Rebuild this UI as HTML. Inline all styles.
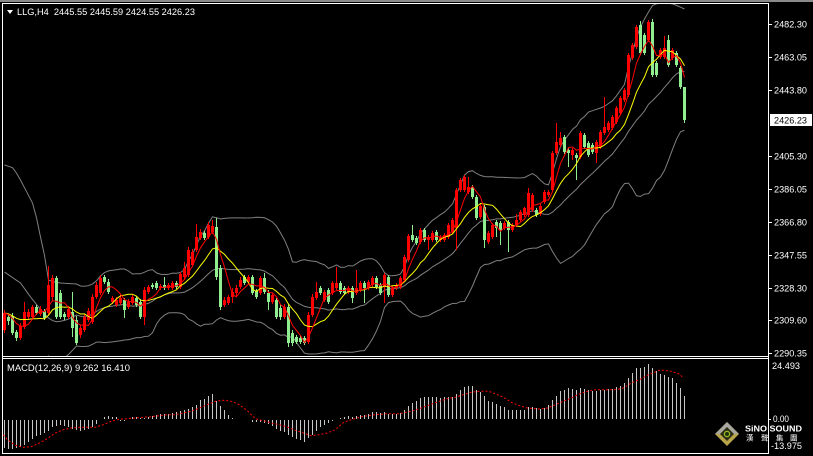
<!DOCTYPE html>
<html><head><meta charset="utf-8"><title>LLG,H4</title>
<style>
html,body{margin:0;padding:0;background:#000;width:813px;height:456px;overflow:hidden}
svg{display:block}
text{font-family:"Liberation Sans","Noto Sans CJK TC",sans-serif;}
</style></head><body>
<svg width="813" height="456" viewBox="0 0 813 456">
<defs>
<clipPath id="cm"><rect x="3" y="4" width="765" height="352"/></clipPath>
<clipPath id="cd"><rect x="3" y="359" width="765" height="94"/></clipPath>
</defs>
<rect width="813" height="456" fill="#000"/>
<rect x="0" y="0" width="813" height="2" fill="#8a8a8a"/>
<g id="gm" clip-path="url(#cm)"></g>
<g id="gd" clip-path="url(#cd)"></g>
<g fill="#fff" shape-rendering="crispEdges">
<rect x="2" y="3" width="767" height="1"/>
<rect x="2" y="3" width="1" height="451"/>
<rect x="768" y="3" width="1" height="451"/>
<rect x="2" y="356" width="767" height="1"/>
<rect x="2" y="358" width="767" height="1"/>
<rect x="2" y="453" width="767" height="1"/>
<rect x="769" y="24" width="3" height="1"/>
<rect x="769" y="57" width="3" height="1"/>
<rect x="769" y="90" width="3" height="1"/>
<rect x="769" y="156" width="3" height="1"/>
<rect x="769" y="189" width="3" height="1"/>
<rect x="769" y="222" width="3" height="1"/>
<rect x="769" y="255" width="3" height="1"/>
<rect x="769" y="288" width="3" height="1"/>
<rect x="769" y="320" width="3" height="1"/>
<rect x="769" y="353" width="3" height="1"/>
<rect x="769" y="419" width="2" height="1"/>
<rect x="770" y="114" width="42" height="12"/>
</g>
<polygon points="7,10 13,10 10,14" fill="#fff"/>
<text x="17" y="15" font-size="9" fill="#fff" textLength="178" lengthAdjust="spacingAndGlyphs" style="white-space:pre">LLG,H4  2445.55 2445.59 2424.55 2426.23</text>
<g font-size="9" fill="#fff">
<text x="774" y="27.3" textLength="33" lengthAdjust="spacingAndGlyphs">2482.30</text>
<text x="774" y="60.3" textLength="33" lengthAdjust="spacingAndGlyphs">2463.05</text>
<text x="774" y="93.3" textLength="33" lengthAdjust="spacingAndGlyphs">2443.80</text>
<text x="774" y="159.3" textLength="33" lengthAdjust="spacingAndGlyphs">2405.30</text>
<text x="774" y="192.3" textLength="33" lengthAdjust="spacingAndGlyphs">2386.05</text>
<text x="774" y="225.3" textLength="33" lengthAdjust="spacingAndGlyphs">2366.80</text>
<text x="774" y="258.3" textLength="33" lengthAdjust="spacingAndGlyphs">2347.55</text>
<text x="774" y="291.3" textLength="33" lengthAdjust="spacingAndGlyphs">2328.30</text>
<text x="774" y="323.3" textLength="33" lengthAdjust="spacingAndGlyphs">2309.60</text>
<text x="774" y="356.3" textLength="33" lengthAdjust="spacingAndGlyphs">2290.35</text>
<text x="772" y="369" textLength="28" lengthAdjust="spacingAndGlyphs">24.493</text>
<text x="773" y="422" textLength="16" lengthAdjust="spacingAndGlyphs">0.00</text>
<text x="771" y="449" textLength="31" lengthAdjust="spacingAndGlyphs">-13.975</text>
<text x="7" y="371" textLength="123" lengthAdjust="spacingAndGlyphs">MACD(12,26,9) 9.262 16.410</text>
</g>
<text x="774" y="123.5" font-size="9" fill="#000" textLength="33" lengthAdjust="spacingAndGlyphs">2426.23</text>
<g>
<polygon points="727,422 739,434 727,446 715,434" fill="#b8a44a"/>
<polygon points="727,422 739,434 715,434" fill="#a8a8a0"/>
<polygon points="727,427 734,434 727,441 720,434" fill="#2e2e14"/>
<circle cx="727" cy="434" r="2.6" fill="#203008" stroke="#9cc02a" stroke-width="1.2"/>
</g>
<text x="745" y="431.5" font-size="8.5" font-weight="bold" fill="#fff" textLength="57" lengthAdjust="spacingAndGlyphs">SiNO SOUND</text>
<g font-size="7.5" fill="#fff" style="font-family:'Noto Sans CJK TC','WenQuanYi Zen Hei',sans-serif">
<text x="746" y="440.5">漢</text>
<text x="761" y="440.5">聲</text>
<text x="776" y="440.5">集</text>
<text x="790" y="440.5">團</text>
</g>
</svg>
<script>
(function(){
var D="r,313,330,310,333;g,317,321,314,325;g,316,333,313,335;g,332,338,330,341;r,326,338,323,340;r,312,327,302,329;r,312,317,309,320;r,307,317,305,320;g,307,313,305,315;r,309,314,306,316;g,311,318,309,320;r,285,313,266,315;r,278,297,275,300;g,278,317,276,319;g,293,317,290,319;g,314,317,312,320;r,309,317,306,319;g,312,328,292,337;g,320,343,316,345;r,328,335,325,338;r,317,330,314,332;r,311,320,308,322;r,297,322,294,324;r,285,297,282,299;r,278,293,275,295;g,277,282,275,284;g,282,292,279,294;r,298,302,296,304;r,300,305,297,307;r,298,303,295,305;g,300,310,298,318;r,302,307,299,309;r,297,303,294,305;g,298,305,296,307;g,302,317,299,319;r,290,317,287,325;r,287,292,285,294;g,285,287,283,289;g,283,288,281,290;r,286,288,284,290;g,285,288,277,290;r,285,288,283,290;r,283,288,281,290;g,283,287,281,289;r,274,287,272,289;r,268,277,262,279;r,250,275,247,277;r,252,265,249,267;r,237,250,224,252;r,232,238,229,240;g,233,238,231,240;r,225,237,222,239;r,226,232,220,234;g,227,277,218,280;g,268,307,265,310;r,300,305,297,307;r,297,303,295,305;r,292,297,288,303;r,288,293,285,296;r,280,287,277,289;g,277,283,275,285;r,277,282,275,284;g,277,293,275,295;g,291,297,289,299;r,278,293,276,295;g,278,292,273,294;g,293,302,290,310;r,295,302,293,304;g,300,317,298,319;g,308,317,305,320;r,307,317,304,319;g,307,343,304,347;g,333,343,330,346;g,337,342,335,344;g,338,342,336,344;g,338,343,336,345;r,315,342,312,344;r,297,315,294,317;r,292,298,282,300;g,288,293,286,295;r,292,300,290,302;g,290,302,288,304;r,283,293,281,295;r,283,288,267,290;g,283,292,281,294;g,288,293,286,295;r,288,292,286,294;g,288,298,286,303;r,288,293,270,295;r,283,290,281,292;g,283,288,281,303;r,282,288,280,290;r,278,285,276,287;g,278,287,276,289;g,285,293,283,295;r,275,287,273,303;g,277,295,275,297;r,288,295,286,297;r,285,288,283,290;r,278,287,276,289;r,257,280,255,282;r,236,260,234,262;g,235,240,225,242;g,238,243,236,245;r,230,242,228,244;g,230,240,228,242;r,237,240,235,250;r,233,240,231,242;g,232,240,230,242;r,237,240,235,242;r,235,240,233,242;r,225,237,223,239;r,220,232,218,234;r,190,228,188,250;r,180,190,178,192;r,177,190,175,192;r,187,192,177,194;g,187,197,185,199;g,197,218,195,220;r,206,217,204,219;g,207,240,205,248;r,233,242,231,244;r,225,237,223,239;g,222,228,220,237;g,223,230,221,245;r,223,228,221,230;g,222,230,220,252;r,225,230,223,232;r,220,225,214,227;r,212,220,210,222;r,208,215,207,217;r,193,215,188,217;r,195,210,193,212;g,210,215,208,217;r,206,214,204,216;r,192,202,190,204;r,192,195,190,197;r,153,190,151,192;r,142,153,123,155;r,138,145,132,147;g,137,152,135,154;g,150,153,148,167;r,150,155,148,160;g,155,158,153,180;r,133,157,131,159;g,135,147,133,149;g,143,155,141,157;g,145,152,143,154;r,142,153,140,163;r,132,147,130,149;r,127,133,97,135;r,123,130,121,132;r,117,128,115,130;r,108,122,106,124;r,98,113,96,115;r,90,100,88,102;r,55,95,53,97;r,45,58,43,60;r,27,47,25,49;g,25,53,21,55;g,35,53,33,55;r,22,40,20,42;g,22,75,19,77;g,63,75,61,77;r,50,57,48,59;r,48,57,36,59;g,40,65,35,67;r,50,58,48,60;g,53,65,51,67;g,68,87,66,89;g,87,120,87,123";
var K=D.split(';').map(function(s){var a=s.split(',');return{c:a[0],t:+a[1],b:+a[2],h:+a[3],l:+a[4]};});
var N=K.length,i,j;
var C=[];for(i=0;i<N;i++)C.push(K[i].c=='r'?K[i].t:K[i].b);
function X(i){return 4+4*i;}
function ip(P,x){if(x<=P[0][0])return P[0][1];for(var k=1;k<P.length;k++){if(x<=P[k][0]){var a=P[k-1],b=P[k];return a[1]+(b[1]-a[1])*(x-a[0])/(b[0]-a[0]);}}return P[P.length-1][1];}
function ma(i,n){var s=0;for(var k=i-n+1;k<=i;k++)s+=(k<0?313:C[k]);return s/n;}
var UP=[[0,164],[4,165],[13,168],[20,180],[32,203],[35,213],[40,237],[45,260],[48,280],[53,282],[60,283],[76,284]];
var MD=[[0,271],[4,272],[20,283],[30,297],[43,313],[50,320],[57,322],[66,320],[76,315]];
var UR=[[588,112],[603,107],[613,100],[618,93],[625,83],[628,67],[632,53],[635,40],[640,27],[645,17],[648,12],[653,4],[665,3],[673,4],[684,9]];
var up=[],md=[],lo=[],m5=[],m10=[];
for(i=0;i<N;i++){var x=X(i),u,m,l;
 if(i<19){u=ip(UP,x);m=ip(MD,x);l=2*m-u;}
 else{var s=0;for(j=i-19;j<=i;j++)s+=C[j];m=s/20;var v=0;for(j=i-19;j<=i;j++)v+=(C[j]-m)*(C[j]-m);var sd=Math.sqrt(v/20);u=m-2*sd;l=m+2*sd;}
 if(x>=588)u=ip(UR,x);
 up.push(u);md.push(m);lo.push(l);m5.push(ma(i,5));m10.push(ma(i,10));}
function pl(A,col){var p=[];for(var k=0;k<A.length;k++)p.push((X(k)+0.5)+','+A[k].toFixed(1));return '<polyline fill="none" stroke="'+col+'" stroke-width="1" points="'+p.join(' ')+'"/>';}
var s='';
s+=pl(up,'#808080')+pl(md,'#808080')+pl(lo,'#808080');
var c='';
for(i=0;i<N;i++){var k=K[i],x=X(i),col=k.c=='r'?'#ff0000':'#90ee90';
 c+='<rect x="'+x+'" y="'+k.h+'" width="1" height="'+(k.l-k.h)+'" fill="'+col+'"/>';
 c+='<rect x="'+(x-1)+'" y="'+k.t+'" width="3" height="'+Math.max(1,k.b-k.t)+'" fill="'+col+'"/>';}
s+='<g shape-rendering="crispEdges">'+c+'</g>';
s+=pl(m10,'#ffff00')+pl(m5,'#ff0000');
document.getElementById('gm').innerHTML=s;
var H=[-28,-29,-29,-28,-27,-25,-22,-19,-16,-15,
-13,-11,-7,-6,-5,-6,-7,-9,-10,-11,
-10,-9,-7,-4,0,2,3,2,1.5,-0.5,
-0.5,0.3,1.5,1.5,1,1,2,3,4,5,
5,5,6,7,8,9,10,12,14,19,
20,23,25,18,13,9,4,1,0,0.3,
0.2,0.2,-2,-2,-2,-3,-4,-6,-9,-11,
-12,-15,-17,-19,-20,-22,-18,-15,-11,-7,
-5,-3,-1,0.3,1,
1.7,2.7,2.3,2.7,4,4.3,5,6.7,6.7,5.7,
6.7,5,5,5,6,9,12.7,15.7,17.7,20.7,
21.7,21.7,22.3,21.7,21,21.7,21.7,22.3,25,29,
31.7,32.7,32.7,29.3,26.7,22.7,18.3,16.7,15,12.7,
11.7,9.3,9,9,9,9.3,11.7,11.7,11,10,
11,14,19,23.3,27.7,29.3,30.7,30,29.3,30.7,
30,29,28.3,28.3,29,29.3,30,30,31.7,33.3,
35.7,40.7,45.7,50.7,50.7,52.3,55,50.7,47.7,45,
44,41.7,41,35.7,30.7,22.7];
var d='';
for(i=0;i<N&&i<H.length;i++){var h=H[i];if(Math.abs(h)<0.4)continue;var hh=Math.max(1,Math.round(Math.abs(h)));var y=h>0?419-hh:420;d+='<rect x="'+X(i)+'" y="'+y+'" width="1" height="'+hh+'"/>';}
var S=[[3.3,434.7],[7.3,439.7],[15.3,445.3],[23.3,447.3],[31.3,446.7],[39.3,443],[47.3,438.7],[55.3,433],[63.3,429.7],[71.3,428],[79.3,427.3],[87.3,427.3],[95.3,427.3],[103.3,424.7],[111.3,421.3],[119.3,419.3],[127.3,418.7],[135.3,418],[143.3,417.3],[151.3,416.7],[159.3,415.7],[167.3,414.7],[175.3,414.7],[183.3,413],[191.3,411.3],[199.3,408],[207.3,404.7],[215.3,401.3],[223.3,400.3],[231.3,401.3],[239.3,404.7],[247.3,410.7],[255.3,418.7],[263.3,420.7],[271.3,423],[279.3,424.7],[287.3,427],[295.3,430.3],[303.3,433],[311.3,435.7],[319.3,434.7],[327.3,433],[335.3,429.7],[344,422],[351.3,419.7],[363.3,416.3],[375.3,414.7],[387.3,413.7],[399.3,413.7],[411.3,411.3],[419.3,408.7],[427.3,405.7],[439.3,401.3],[447.3,398.7],[455.3,397.3],[463.3,394.7],[471.3,392.3],[479.3,391.3],[488.7,391.3],[495.3,393.7],[503.3,397.3],[511.3,402.3],[519.3,405.7],[527.3,408],[539.3,409],[547.3,408],[555.3,404.7],[563.3,401.3],[571.3,398],[579.3,394],[587.3,391.3],[595.3,389.7],[603.3,389.7],[611.3,389.7],[619.3,389],[623.3,388],[631.3,383],[639.3,379.7],[647.3,375.3],[655.3,372],[659.3,370.3],[663.3,370.3],[671.3,371.3],[679.3,374],[683.3,378]];
var sp=S.map(function(p){return p[0]+','+p[1];}).join(' ');
document.getElementById('gd').innerHTML='<g fill="#c8c8c8" shape-rendering="crispEdges">'+d+'</g><polyline fill="none" stroke="#ff0000" stroke-width="1" stroke-dasharray="2,2" points="'+sp+'"/>';
})();
</script>
</body></html>
